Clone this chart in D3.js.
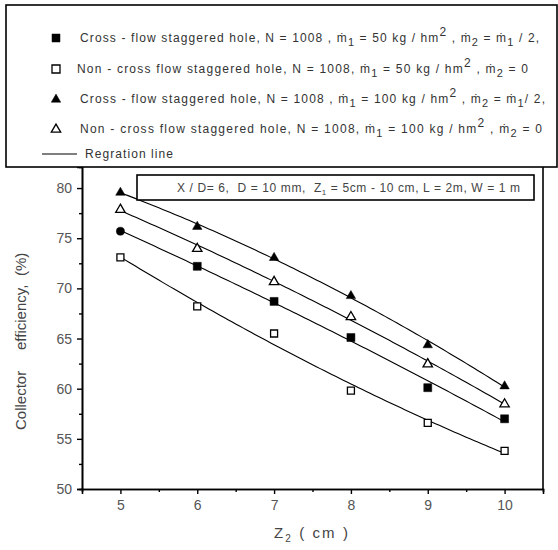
<!DOCTYPE html>
<html>
<head>
<meta charset="utf-8">
<script src="https://cdn.jsdelivr.net/npm/d3@7"></script>
<style>
  html, body { margin: 0; padding: 0; background: #fff; }
  svg { display: block; font-family: "Liberation Sans", Arial, sans-serif; }
</style>
</head>
<body>
<svg id="chart" width="558" height="550"></svg>
<script>
// ---------------- data ----------------
const z2 = [5, 6, 7, 8, 9, 10];
const crossFlow50 = [75.7, 72.2, 68.7, 65.1, 60.1, 57.0];
const nonCross50  = [73.1, 68.2, 65.5, 59.8, 56.6, 53.8];
const crossFlow100 = [79.6, 76.2, 73.1, 69.3, 64.4, 60.3];
const nonCross100  = [77.9, 74.0, 70.7, 67.2, 62.5, 58.5];
// marker used for each point of the first series (its first point is drawn as a dot)
const crossFlow50Markers = ["circle", "square", "square", "square", "square", "square"];
const xTicks = [5, 6, 7, 8, 9, 10];
const yTicks = [50, 55, 60, 65, 70, 75, 80];

const series = [
  { values: crossFlow50, marker: "square", filled: true, markers: crossFlow50Markers },
  { values: nonCross50, marker: "square", filled: false },
  { values: crossFlow100, marker: "triangle", filled: true },
  { values: nonCross100, marker: "triangle", filled: false }
];

const svg = d3.select("#chart");
const x = d3.scaleLinear().domain([4.5, 10.5]).range([82, 543]);
const y = d3.scaleLinear().domain([50, 82.1]).range([489, 167]);

// stretch a text element's letter spacing so that it spans a given length
function fitLen(textSel, target) {
  const node = textSel.node();
  const len = node.getComputedTextLength();
  const n = node.textContent.length;
  const ls = (target - len) / Math.max(1, n - 1);
  textSel.style("letter-spacing", ls + "px");
}
function fitTo(textSel, startX, endX) { fitLen(textSel, endX - startX); }

// ---------------- axes ----------------
const axisColor = "#000";
const tickText = "#555";

const gx = svg.append("g").attr("transform", "translate(0,489)")
  .call(d3.axisBottom(x).tickValues(xTicks).tickSize(5).tickPadding(6).tickFormat(d3.format("d")));
const gxm = svg.append("g").attr("transform", "translate(0,489)")
  .call(d3.axisBottom(x).tickValues(d3.range(5.5, 10, 1)).tickSize(3).tickFormat(""));
const gy = svg.append("g").attr("transform", "translate(82,0)")
  .call(d3.axisLeft(y).tickValues(yTicks).tickSize(5).tickPadding(5).tickFormat(d3.format("d")));
const gym = svg.append("g").attr("transform", "translate(82,0)")
  .call(d3.axisLeft(y).tickValues(d3.range(52.5, 80, 5)).tickSize(3).tickFormat(""));
[gx, gxm, gy, gym].forEach(g => {
  g.select(".domain").attr("stroke", axisColor).attr("stroke-width", 1.6);
  g.selectAll(".tick line").attr("stroke", axisColor).attr("stroke-width", 1.4);
  g.selectAll(".tick text").attr("fill", tickText).style("font-size", "14px")
    .style("font-family", "'Liberation Sans', Arial, sans-serif");
});
// right frame
svg.append("line").attr("x1", 543).attr("x2", 543).attr("y1", 167).attr("y2", 489)
  .attr("stroke", "#000").attr("stroke-width", 1.6);

// ---------------- regression (quadratic least squares from data) ----------------
function quadFit(xs, ys) {
  let S = [[0,0,0],[0,0,0],[0,0,0]], T = [0,0,0];
  xs.forEach((xi, i) => {
    const p = [1, xi, xi*xi];
    for (let r = 0; r < 3; r++) { T[r] += p[r]*ys[i]; for (let c = 0; c < 3; c++) S[r][c] += p[r]*p[c]; }
  });
  const A = S.map((row, i) => row.concat([T[i]]));
  for (let i = 0; i < 3; i++) {
    for (let k = i+1; k < 3; k++) {
      const f = A[k][i]/A[i][i];
      for (let j = i; j < 4; j++) A[k][j] -= f*A[i][j];
    }
  }
  const sol = [0,0,0];
  for (let i = 2; i >= 0; i--) {
    let s = A[i][3];
    for (let j = i+1; j < 3; j++) s -= A[i][j]*sol[j];
    sol[i] = s/A[i][i];
  }
  return xv => sol[0] + sol[1]*xv + sol[2]*xv*xv;
}

const line = d3.line().x(d => x(d[0])).y(d => y(d[1]));
const sampleX = d3.range(z2[0], z2[z2.length-1] + 0.001, 0.05);
series.forEach(s => {
  const f = quadFit(z2, s.values);
  svg.append("path").attr("d", line(sampleX.map(v => [v, f(v)])))
    .attr("fill", "none").attr("stroke", "#000").attr("stroke-width", 1.1);
});

// ---------------- markers ----------------
function drawMarker(g, type, filled, cx, cy, size) {
  let sym;
  if (type === "square") sym = d3.symbolSquare;
  else if (type === "triangle") sym = d3.symbolTriangle;
  else sym = d3.symbolCircle;
  const area = type === "square" ? size*size : (type === "triangle" ? size*size*0.6 : size*size*0.8);
  g.append("path").attr("d", d3.symbol().type(sym).size(area)())
    .attr("transform", `translate(${cx},${cy + (type === "triangle" ? 0.5 : 0)})`)
    .attr("fill", filled ? "#000" : "#fff")
    .attr("stroke", "#000").attr("stroke-width", filled ? 0.5 : 1.3);
}
const mg = svg.append("g");
series.forEach(s => {
  s.values.forEach((v, i) => {
    const type = s.markers ? s.markers[i] : s.marker;
    drawMarker(mg, type, s.filled, x(z2[i]), y(v), type === "square" && !s.filled ? 7 : 8);
  });
});

// ---------------- annotation box ----------------
svg.append("rect").attr("x", 137).attr("y", 175).attr("width", 397).attr("height", 25)
  .attr("fill", "#fff").attr("stroke", "#000").attr("stroke-width", 1.6);
const ann = svg.append("text").attr("x", 177).attr("y", 192)
  .attr("fill", "#444").style("font-size", "12px").style("white-space", "pre");
ann.append("tspan").text("X / D= 6,  D = 10 mm,  Z");
ann.append("tspan").attr("dy", 3).style("font-size", "8px").text("1");
ann.append("tspan").attr("dy", -3).text(" = 5cm - 10 cm, L = 2m, W = 1 m");
fitTo(ann, 177, 520);

// ---------------- legend ----------------
svg.append("rect").attr("x", 6).attr("y", 5).attr("width", 551).attr("height", 162)
  .attr("fill", "#fff").attr("stroke", "#000").attr("stroke-width", 1.6);

const legendRows = [
  { marker: "square", filled: true, cy: 38, tx: 80, end: 539,
    parts: [["Cross - flow staggered hole, N = 1008 , ṁ"], ["1","sub"], [" = 50 kg / hm"], ["2","sup"], [" , ṁ"], ["2","sub"], [" = ṁ"], ["1","sub"], [" / 2,"]] },
  { marker: "square", filled: false, cy: 69, tx: 77, end: 528,
    parts: [["Non - cross flow staggered hole, N = 1008, ṁ"], ["1","sub"], [" = 50 kg / hm"], ["2","sup"], [" , ṁ"], ["2","sub"], [" = 0"]] },
  { marker: "triangle", filled: true, cy: 99, tx: 80, end: 545,
    parts: [["Cross - flow staggered hole, N = 1008 , ṁ"], ["1","sub"], [" = 100 kg / hm"], ["2","sup"], [" , ṁ"], ["2","sub"], [" = ṁ"], ["1","sub"], ["/ 2,"]] },
  { marker: "triangle", filled: false, cy: 129, tx: 80, end: 542,
    parts: [["Non - cross flow staggered hole, N = 1008, ṁ"], ["1","sub"], [" = 100 kg / hm"], ["2","sup"], [" , ṁ"], ["2","sub"], [" = 0"]] }
];
const lg = svg.append("g");
legendRows.forEach(r => {
  drawMarker(lg, r.marker, r.filled, 56, r.cy, 8);
  const t = lg.append("text").attr("x", r.tx).attr("y", r.cy + 4).attr("fill", "#333").style("font-size", "12px");
  let shift = 0;
  r.parts.forEach(p => {
    const ts = t.append("tspan").text(p[0]);
    let target = 0;
    if (p[1] === "sub") { target = 4; ts.style("font-size", "11px"); }
    if (p[1] === "sup") { target = -6; ts.style("font-size", "12px"); }
    ts.attr("dy", target - shift);
    shift = target;
  });
  fitTo(t, r.tx, r.end);
});
lg.append("line").attr("x1", 42).attr("x2", 77).attr("y1", 154).attr("y2", 154)
  .attr("stroke", "#000").attr("stroke-width", 1.2);
const rl = lg.append("text").attr("x", 85).attr("y", 158).attr("fill", "#333").style("font-size", "12px")
  .text("Regration line");
fitTo(rl, 85, 173);

// ---------------- axis titles ----------------
const yt = svg.append("text").attr("transform", "translate(26,0) rotate(-90)")
  .attr("fill", "#444").style("font-size", "15px");
yt.append("tspan").attr("x", -430).text("Collector");
yt.append("tspan").attr("x", -350).text("efficiency,");
yt.append("tspan").attr("x", -276).text("(%)");
const xt = svg.append("text").attr("x", 312).attr("y", 538).attr("text-anchor", "middle")
  .attr("fill", "#444").style("font-size", "15px").style("white-space", "pre");
xt.append("tspan").text("Z");
xt.append("tspan").attr("dy", 4).style("font-size", "10px").text("2");
xt.append("tspan").attr("dy", -4).text(" ( cm )");
fitLen(xt, 74);
</script>
</body>
</html>
